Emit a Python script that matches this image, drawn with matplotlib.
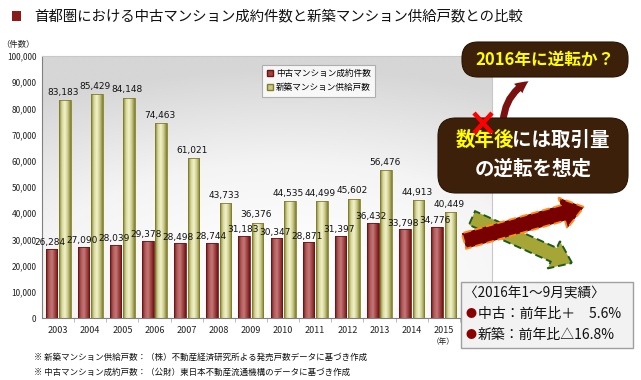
import numpy as np
import matplotlib
matplotlib.use("Agg")
import matplotlib.pyplot as plt
from matplotlib.patches import FancyBboxPatch, Rectangle, FancyArrow, FancyArrowPatch
from matplotlib.colors import LinearSegmentedColormap
from matplotlib.lines import Line2D
from matplotlib.ticker import FuncFormatter

plt.rcParams['font.family'] = ['Noto Sans CJK JP', 'DejaVu Sans']

# data
years = ['2003', '2004', '2005', '2006', '2007', '2008', '2009',
         '2010', '2011', '2012', '2013', '2014', '2015']
resale = [26284, 27090, 28039, 29378, 28498, 28744, 31183,
          30347, 28871, 31397, 36432, 33798, 34776]
new_supply = [83183, 85429, 84148, 74463, 61021, 43733, 36376,
              44535, 44499, 45602, 56476, 44913, 40449]
series_names = ['中古マンション成約件数', '新築マンション供給戸数']

W, H = 641, 380
fig = plt.figure(figsize=(W / 100, H / 100), dpi=100)

# main chart area (pixel box 42..492 x 56..318)
ax = fig.add_axes([42 / W, (H - 318) / H, 450 / W, 262 / H])

# background radial gradient
gy, gx = np.mgrid[0:1:200j, 0:1:200j]
dist = np.sqrt(((gx - 0.55) * 1.0) ** 2 + ((gy - 0.15) * 1.3) ** 2)
bg_cmap = LinearSegmentedColormap.from_list('bg', ['#ffffff', '#f4f4f4', '#d6d6d6'])
ax.imshow(dist, cmap=bg_cmap, extent=[0, 1, 0, 1], transform=ax.transAxes,
          origin='lower', aspect='auto', zorder=0, vmin=0.1, vmax=1.05)

red_cmap = LinearSegmentedColormap.from_list('r', ['#6e1414', '#b05a5a', '#c47878', '#a04444', '#6e1414'])
olv_cmap = LinearSegmentedColormap.from_list('o', ['#7f7f2a', '#d8d8a0', '#f2f2cc', '#c8c888', '#7f7f2a'])
grad = np.linspace(0, 1, 64).reshape(1, -1)

x = np.arange(len(years))
bw = 0.36
off = 0.21

def gradient_bars(xs, vals, cmap, edge):
    bars = ax.bar(xs, vals, width=bw, color='none', edgecolor=edge, linewidth=0.6, zorder=3)
    for b in bars:
        x0, y0 = b.get_x(), b.get_y()
        im = ax.imshow(grad, cmap=cmap, extent=[x0, x0 + b.get_width(), y0, y0 + b.get_height()],
                       aspect='auto', zorder=2)
        im.set_clip_path(b)
    return bars

gradient_bars(x - off, resale, red_cmap, '#6e1414')
gradient_bars(x + off, new_supply, olv_cmap, '#7f7f2a')

for i in range(len(years)):
    ax.text(x[i] - off - 0.05, resale[i] + 700, f'{resale[i]:,}', ha='center', va='bottom',
            fontsize=6.5, family='DejaVu Sans', color='#111111', zorder=5)
    ax.text(x[i] + off - 0.05, new_supply[i] + 1300, f'{new_supply[i]:,}', ha='center', va='bottom',
            fontsize=6.5, family='DejaVu Sans', color='#111111', zorder=5)

ax.set_xlim(-0.5, 13.5)
ax.set_ylim(0, 100000)
ax.set_yticks(np.arange(0, 100001, 10000))
ax.yaxis.set_major_formatter(FuncFormatter(lambda v, p: f'{int(v):,}'))
ax.set_xticks(x)
ax.set_xticklabels(years)
ax.set_xticks(np.arange(0.5, 13, 1), minor=True)
ax.tick_params(axis='y', length=0, labelsize=6, pad=4, colors='#222222')
ax.tick_params(axis='x', which='major', length=0, labelsize=6.5, pad=6, colors='#222222')
ax.tick_params(axis='x', which='minor', length=3, color='#b0b0b0', direction='out')
for s in ['left', 'bottom']:
    ax.spines[s].set_color('#808080')
for s in ['top', 'right']:
    ax.spines[s].set_color('#c8c8c8')

handles = [Line2D([], [], marker='s', linestyle='none', markersize=4,
                  markerfacecolor='#a04040', markeredgecolor='#6e1414'),
           Line2D([], [], marker='s', linestyle='none', markersize=4,
                  markerfacecolor='#c8c888', markeredgecolor='#7f7f2a')]
leg = ax.legend(handles, series_names, loc='upper left', bbox_to_anchor=(0.489, 0.966),
                fontsize=6.2, frameon=True, fancybox=False, edgecolor='#a0a0a0',
                handlelength=0.8, handletextpad=0.3, borderpad=0.5, labelspacing=0.6,
                borderaxespad=0)
leg.get_frame().set_linewidth(0.8)

# overlay in pixel coords for titles and annotations
ov = fig.add_axes([0, 0, 1, 1], facecolor='none')
ov.set_xlim(0, W)
ov.set_ylim(H, 0)
ov.axis('off')

ov.add_patch(Rectangle((12, 11), 9, 10, facecolor='#8b1a1a', edgecolor='none'))
ov.text(34, 16, '首都圏における中古マンション成約件数と新築マンション供給戸数との比較',
        fontsize=10.4, va='center', ha='left', color='#111111')
ov.text(1, 45, '（件数）', fontsize=6, va='center', ha='left', color='#222222')
ov.text(443, 342, '（年）', fontsize=5.5, va='center', ha='center', color='#222222')
ov.text(34, 357, '※ 新築マンション供給戸数：（株）不動産経済研究所よる発売戸数データに基づき作成',
        fontsize=6.1, va='center', ha='left', color='#111111')
ov.text(34, 372, '※ 中古マンション成約戸数：（公財）東日本不動産流通機構のデータに基づき作成',
        fontsize=6.1, va='center', ha='left', color='#111111')

# arrows
ov.add_patch(FancyArrow(472, 218, 100, 45, width=15, head_width=30, head_length=20,
                        length_includes_head=True, facecolor='#a6a636', edgecolor='#1f5a1f',
                        linestyle=(0, (4, 2)), linewidth=1.4, zorder=4))
ov.add_patch(FancyArrow(464, 241, 120, -34, width=16, head_width=32, head_length=22,
                        length_includes_head=True, facecolor='#780000', edgecolor='#ff8c1a',
                        linestyle=(0, (4, 2)), linewidth=1.4, zorder=5))

# boxes
ov.add_patch(FancyBboxPatch((462, 42), 166, 35, boxstyle='round,pad=0,rounding_size=16',
                            facecolor='#3d2009', edgecolor='#2a1505', linewidth=0.8, zorder=5))
ov.text(545, 60, '2016年に逆転か？', fontsize=12, fontweight='bold', color='#ffff00',
        ha='center', va='center', zorder=6)

ov.add_patch(FancyArrowPatch((503, 124), (531, 80), connectionstyle='arc3,rad=-0.3',
                             arrowstyle='simple,head_width=9,head_length=9,tail_width=5',
                             facecolor='#7a1010', edgecolor='none', zorder=5))

ov.add_patch(FancyBboxPatch((438, 118), 190, 75, boxstyle='round,pad=0,rounding_size=18',
                            facecolor='#3d2009', edgecolor='#2a1505', linewidth=0.8, zorder=6))
ov.text(456, 140, '数年後', fontsize=14, fontweight='bold', color='#ffff00',
        ha='left', va='center', zorder=7)
ov.text(512, 140, 'には取引量', fontsize=14, fontweight='bold', color='#ffffff',
        ha='left', va='center', zorder=7)
ov.text(533, 169, 'の逆転を想定', fontsize=14, fontweight='bold', color='#ffffff',
        ha='center', va='center', zorder=7)

ov.plot([474, 492], [113, 133], color='#ff0000', linewidth=3.2, solid_capstyle='butt', zorder=8)
ov.plot([474, 492], [133, 113], color='#ff0000', linewidth=3.2, solid_capstyle='butt', zorder=8)

# info box
ov.add_patch(Rectangle((461, 282), 172, 66, facecolor='#f2f2f2', edgecolor='#a0a0a0',
                       linewidth=1, zorder=5))
ov.text(464, 294, '〈2016年1～9月実績〉', fontsize=9.8, color='#111111', ha='left', va='center', zorder=6)
ov.text(466, 314, '●', fontsize=8, color='#8b0000', ha='left', va='center', zorder=6)
ov.text(478, 314, '中古：前年比＋　5.6%', fontsize=10, color='#111111', ha='left', va='center', zorder=6)
ov.text(466, 335, '●', fontsize=8, color='#8b0000', ha='left', va='center', zorder=6)
ov.text(478, 335, '新築：前年比△16.8%', fontsize=10, color='#111111', ha='left', va='center', zorder=6)

fig.savefig('out.png', dpi=100)
